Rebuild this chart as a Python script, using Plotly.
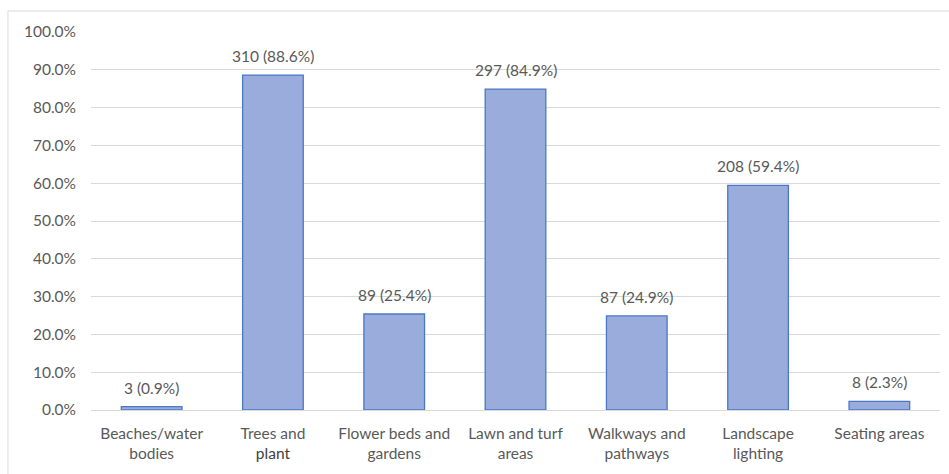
import plotly.graph_objects as go

categories = ["Beaches/water<br>bodies", "Trees and<br><span style='color:#404040'>plant</span>",
              "Flower beds and<br>gardens", "Lawn and turf<br>areas",
              "Walkways and<br>pathways", "Landscape<br>lighting", "Seating areas"]
counts = [3, 310, 89, 297, 87, 208, 8]
percents = [0.9, 88.6, 25.4, 84.9, 24.9, 59.4, 2.3]
labels = [f"{c} ({p}%)" for c, p in zip(counts, percents)]
yticks = [0, 10, 20, 30, 40, 50, 60, 70, 80, 90, 100]
yticklabels = [f"{v:.1f}%" for v in yticks]

font_family = "Lato, 'Liberation Sans', sans-serif"
fs = 15.5

fig = go.Figure(go.Bar(
    x=categories, y=percents,
    cliponaxis=False,
    marker=dict(color="#9aacdc", line=dict(color="#4a78c8", width=1.3)),
))

for cat, val, lab in zip(categories, percents, labels):
    fig.add_annotation(x=cat, y=val, text=lab, showarrow=False,
                       yanchor="bottom", yshift=8,
                       font=dict(color="#595959", size=fs, family=font_family))

fig.update_layout(
    width=949, height=474,
    margin=dict(l=91, r=9, t=32, b=64),
    paper_bgcolor="white", plot_bgcolor="white",
    bargap=0.5, showlegend=False,
    font=dict(family=font_family, color="#595959", size=fs),
    xaxis=dict(showgrid=False, showline=False, ticks="", ticklabelstandoff=12,
               tickfont=dict(size=fs, color="#595959")),
    yaxis=dict(range=[0, 100], tickvals=yticks, ticktext=yticklabels,
               showgrid=True, gridcolor="#d9d9d9", gridwidth=1, zeroline=True,
               zerolinecolor="#d9d9d9", zerolinewidth=1, showline=False, ticks="",
               ticklabelstandoff=14, tickfont=dict(size=fs, color="#595959")),
    shapes=[dict(type="rect", xref="paper", yref="paper",
                 x0=-0.0978, x1=1.05, y0=-0.2, y1=1.0556,
                 line=dict(color="#d9d9d9", width=1), layer="below")],
)

fig.write_html("out.html")
